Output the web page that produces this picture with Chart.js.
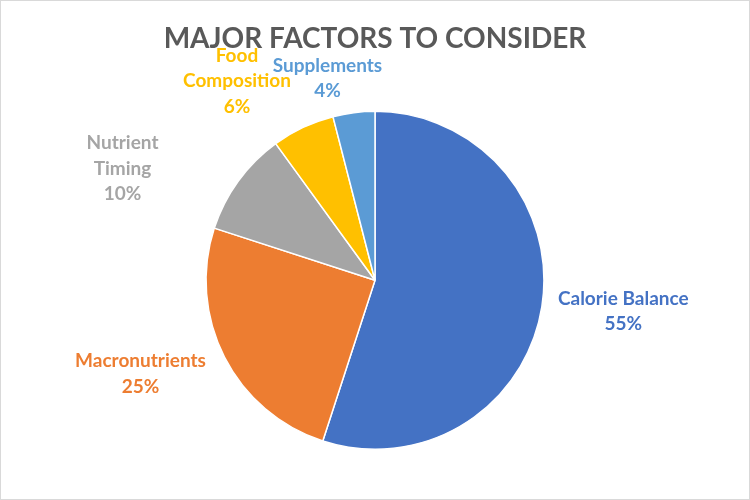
<!DOCTYPE html>
<html>
<head>
<meta charset="utf-8">
<script src="https://cdn.jsdelivr.net/npm/chart.js@4"></script>
<style>
  html, body { margin: 0; padding: 0; background: #fff; }
  #wrap {
    width: 750px; height: 500px; box-sizing: border-box;
    border: 1px solid #d9d9d9; position: relative;
  }
</style>
</head>
<body>
<div id="wrap"><canvas id="chart"></canvas></div>
<script>
const categories = ["Calorie Balance", "Macronutrients", "Nutrient Timing", "Food Composition", "Supplements"];
const labelLines = [["Calorie Balance"], ["Macronutrients"], ["Nutrient", "Timing"], ["Food", "Composition"], ["Supplements"]];
const shares = [55, 25, 10, 6, 4];
const colors = ["#4472C4", "#ED7D31", "#A5A5A5", "#FFC000", "#5B9BD5"];

const FONT = "Lato, 'Open Sans', sans-serif";

/* nudges so labels sit roughly where Excel puts them */
const nudges = [[5, -1], [-15, 0], [-77, 17], [-38, -1], [-18, 3]];

/* =========================
   OUTSIDE LABELS
========================= */
const outsideLabels = {
  id: "outsideLabels",
  afterDatasetsDraw(chart) {
    const ctx = chart.ctx;
    const meta = chart.getDatasetMeta(0);
    const total = shares.reduce((a, b) => a + b, 0);
    const lineH = 25.5;

    ctx.save();
    ctx.font = "bold 19px " + FONT;
    ctx.textAlign = "center";
    ctx.textBaseline = "middle";

    meta.data.forEach((arc, i) => {
      const p = arc.getProps(["x", "y", "startAngle", "endAngle", "outerRadius"], true);
      const mid = (p.startAngle + p.endAngle) / 2;
      const dx = Math.cos(mid);
      const dy = Math.sin(mid);

      const lines = labelLines[i].concat([Math.round(shares[i] / total * 100) + "%"]);
      const w = Math.max(...lines.map((l) => ctx.measureText(l).width));
      const h = lines.length * lineH;

      const px = p.x + (p.outerRadius + 12) * dx;
      const py = p.y + (p.outerRadius + 12) * dy;
      const cx = px + dx * w / 2 + nudges[i][0];
      const cy = py + dy * h / 2 + nudges[i][1];

      ctx.fillStyle = colors[i];
      lines.forEach((l, k) => {
        ctx.fillText(l, cx, cy - h / 2 + lineH / 2 + k * lineH);
      });
    });
    ctx.restore();
  },
};

new Chart(document.getElementById("chart"), {
  type: "pie",
  data: {
    labels: categories,
    datasets: [
      {
        data: shares,
        backgroundColor: colors,
        borderColor: "#ffffff",
        borderWidth: 1.5,
      },
    ],
  },
  options: {
    responsive: true,
    maintainAspectRatio: false,
    animation: false,
    layout: { padding: { top: 0, bottom: 49, left: 0, right: 0 } },
    plugins: {
      legend: { display: false },
      tooltip: { enabled: false },
      title: {
        display: true,
        text: "MAJOR FACTORS TO CONSIDER",
        color: "#595959",
        font: { family: FONT, size: 28, weight: "bold" },
        padding: { top: 21, bottom: 55 },
      },
    },
  },
  plugins: [outsideLabels],
});
</script>
</body>
</html>
